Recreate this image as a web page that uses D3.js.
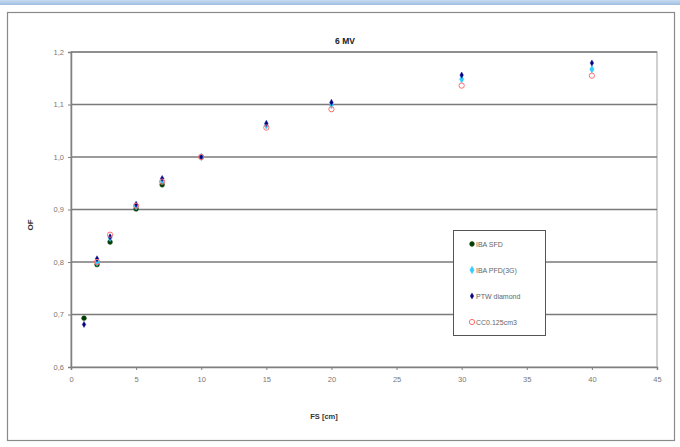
<!DOCTYPE html>
<html>
<head>
<meta charset="utf-8">
<script src="https://cdn.jsdelivr.net/npm/d3@7"></script>
<style>
  html, body { margin: 0; padding: 0; background: #fff; }
  svg text { font-family: "Liberation Sans", Arial, sans-serif; }
</style>
</head>
<body>
<svg id="chart" width="680" height="447"></svg>
<script>
// Output factors (OF) vs. field size (FS, cm) for a 6 MV beam, per detector
const sfdFS = [1, 2, 3, 5, 7, 10];
const sfdOF = [0.693, 0.795, 0.838, 0.901, 0.947, 1.000];

const pfdFS = [2, 3, 5, 7, 10, 15, 20, 30, 40];
const pfdOF = [0.799, 0.846, 0.906, 0.955, 1.000, 1.060, 1.099, 1.148, 1.167];

const ptwFS = [1, 2, 3, 5, 7, 10, 15, 20, 30, 40];
const ptwOF = [0.681, 0.806, 0.848, 0.910, 0.959, 1.000, 1.064, 1.104, 1.156, 1.179];

const ccFS = [2, 3, 5, 7, 10, 15, 20, 30, 40];
const ccOF = [0.800, 0.852, 0.907, 0.953, 1.000, 1.056, 1.091, 1.136, 1.155];

const seriesNames = ["IBA SFD", "IBA PFD(3G)", "PTW diamond", "CC0.125cm3"];
const xTicks = [0, 5, 10, 15, 20, 25, 30, 35, 40, 45];
const yTicks = [0.6, 0.7, 0.8, 0.9, 1.0, 1.1, 1.2];

const series = [
  { name: seriesNames[0], xs: sfdFS, ys: sfdOF, symbol: d3.symbolCircle, size: 18, fill: "#003a00", stroke: "#1f5a1f", sw: 0.6 },
  { name: seriesNames[1], xs: pfdFS, ys: pfdOF, symbol: d3.symbolDiamond, size: 16, fill: "#33ccff", stroke: "#33ccff", sw: 0.5 },
  { name: seriesNames[2], xs: ptwFS, ys: ptwOF, symbol: d3.symbolDiamond, size: 11, fill: "#000080", stroke: "#2020a0", sw: 0.5 },
  { name: seriesNames[3], xs: ccFS, ys: ccOF, symbol: d3.symbolCircle, size: 22, fill: "none", stroke: "#ff7070", sw: 1 }
];

const svg = d3.select("#chart");

// window accent strip and chart frame
const grad = svg.append("defs").append("linearGradient").attr("id", "strip")
  .attr("x1", 0).attr("x2", 0).attr("y1", 0).attr("y2", 1);
grad.append("stop").attr("offset", 0).attr("stop-color", "#c6dcf2");
grad.append("stop").attr("offset", 1).attr("stop-color", "#9fbde0");
svg.append("rect").attr("x", 0).attr("y", 0).attr("width", 680).attr("height", 5).attr("fill", "url(#strip)");
svg.append("rect").attr("x", 7.5).attr("y", 12.5).attr("width", 667).attr("height", 428)
  .attr("fill", "#fff").attr("stroke", "#8a8a8a").attr("stroke-width", 1.2);

const x = d3.scaleLinear().domain([0, 45]).range([71, 657]);
const y = d3.scaleLinear().domain([0.6, 1.2]).range([367, 52]);

// plot area border
svg.append("rect").attr("x", x(0)).attr("y", y(1.2)).attr("width", x(45) - x(0)).attr("height", y(0.6) - y(1.2))
  .attr("fill", "none").attr("stroke", "#c0c0c0").attr("stroke-width", 1.5);

// horizontal gridlines
svg.append("g").selectAll("line").data(yTicks.slice(1)).join("line")
  .attr("x1", x(0)).attr("x2", x(45))
  .attr("y1", d => y(d)).attr("y2", d => y(d))
  .attr("stroke", "#7a7a7a").attr("stroke-width", 1.3);

const fmtY = d => d3.format(".1f")(d).replace(".", ",");

const yAxis = svg.append("g").attr("transform", `translate(${x(0)},0)`)
  .call(d3.axisLeft(y).tickValues(yTicks).tickFormat(fmtY).tickSize(3).tickPadding(4));
const xAxis = svg.append("g").attr("transform", `translate(0,${y(0.6)})`)
  .call(d3.axisBottom(x).tickValues(xTicks).tickFormat(d3.format("d")).tickSize(3).tickPadding(7));

[yAxis, xAxis].forEach(g => {
  g.select(".domain").attr("stroke", "#808080").attr("stroke-width", 1.5);
  g.selectAll(".tick line").attr("stroke", "#808080");
  g.selectAll(".tick text").attr("fill", "#777").attr("font-size", 7.5);
});

// title and axis titles
svg.append("text").attr("x", 345).attr("y", 44).attr("text-anchor", "middle")
  .attr("font-size", 8.5).attr("font-weight", "bold").attr("fill", "#222").text("6 MV");
svg.append("text").attr("transform", "translate(33,225) rotate(-90)").attr("text-anchor", "middle")
  .attr("font-size", 8).attr("font-weight", "bold").attr("fill", "#333").text("OF");
svg.append("text").attr("x", 324).attr("y", 419).attr("text-anchor", "middle")
  .attr("font-size", 7.5).attr("font-weight", "bold").attr("fill", "#333").text("FS [cm]");

// data points
series.forEach(s => {
  const sym = d3.symbol().type(s.symbol).size(s.size);
  svg.append("g").selectAll("path").data(s.xs.map((v, i) => [v, s.ys[i]])).join("path")
    .attr("d", sym)
    .attr("transform", d => `translate(${x(d[0])},${y(d[1])})`)
    .attr("fill", s.fill).attr("stroke", s.stroke).attr("stroke-width", s.sw);
});

// legend
const lg = svg.append("g").attr("transform", "translate(453,230)");
lg.append("rect").attr("x", 0.5).attr("y", 0.5).attr("width", 92).attr("height", 105)
  .attr("fill", "#fff").attr("stroke", "#555").attr("stroke-width", 1);
series.forEach((s, i) => {
  const yy = 14 + i * 26;
  lg.append("path").attr("d", d3.symbol().type(s.symbol).size(s.size)())
    .attr("transform", `translate(19,${yy})`)
    .attr("fill", s.fill).attr("stroke", s.stroke).attr("stroke-width", s.sw);
  lg.append("text").attr("x", 23).attr("y", yy + 2.5).attr("font-size", 7)
    .attr("fill", "#666").text(s.name);
});
</script>
</body>
</html>
